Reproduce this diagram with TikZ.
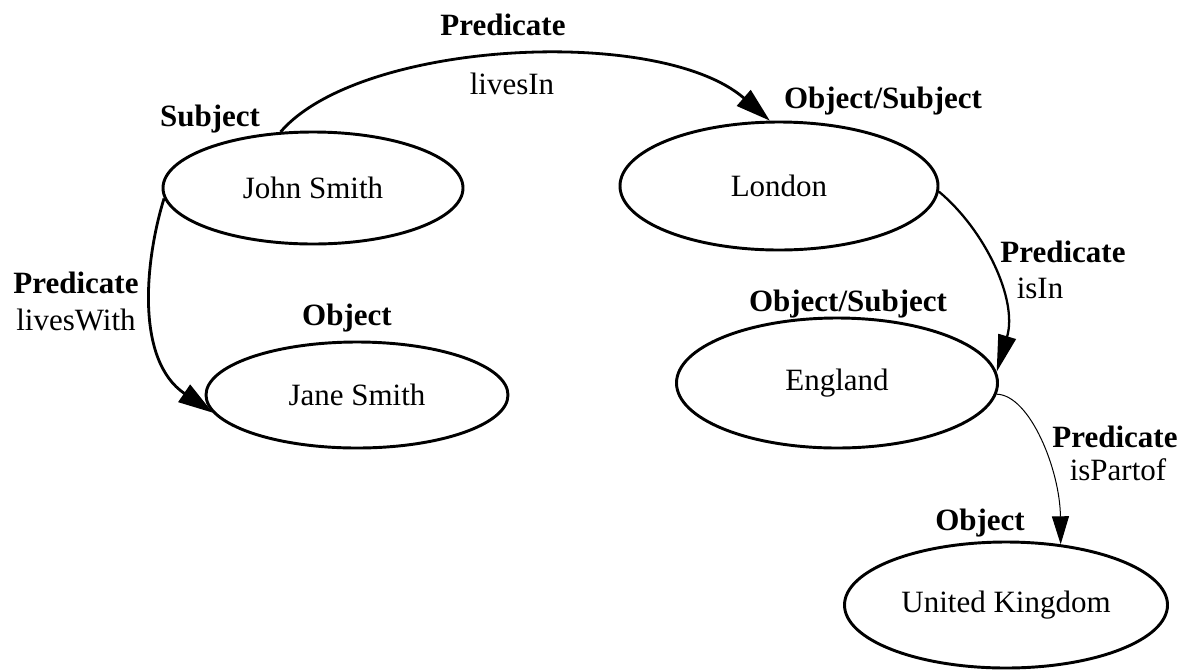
\documentclass[tikz,border=0pt]{standalone}
\usepackage{fontspec}
\setmainfont{Liberation Serif}
\usetikzlibrary{arrows.meta,shapes.geometric}
\begin{document}
\begin{tikzpicture}[x=0.75pt,y=-0.75pt,
  every node/.style={font=\fontsize{23.25pt}{27pt}\selectfont, inner sep=0pt},
  ent/.style={ellipse, draw, line width=2.2pt},
  lbl/.style={font=\fontsize{23.25pt}{27pt}\selectfont\bfseries},
  edge/.style={line width=2.1pt, -{Triangle[length=26pt,width=15.5pt]}},
  midedge/.style={line width=1.7pt, -{Triangle[length=27.75pt,width=13.5pt]}},
  thinedge/.style={line width=0.75pt, -{Triangle[length=21pt,width=12.75pt]}},
]
\useasboundingbox (0,0) rectangle (1185,669);

% entities
\node[ent, minimum width=225pt, minimum height=84pt] (john) at (313,188) {John Smith};
\node[ent, minimum width=226.5pt, minimum height=79.5pt] (jane) at (357,395) {Jane Smith};
\node[ent, minimum width=238.5pt, minimum height=96pt] (london) at (779,186) {London};
\node[ent, minimum width=240.75pt, minimum height=97.5pt] (england) at (837,383) {England};
\node[ent, minimum width=242.25pt, minimum height=94.5pt] (uk) at (1006,605) {United Kingdom};

% labels
\node[lbl] (pTop) at (503,25) {Predicate};
\node (livesIn) at (512,84) {livesIn};
\node[lbl] (subj) at (210,119) {Subject};
\node[lbl] (os1) at (883,101) {Object/Subject};
\node[lbl] (pLeft) at (76,283) {Predicate};
\node (livesWith) at (76,320) {livesWith};
\node[lbl] (obj1) at (347,318) {Object};
\node[lbl] (pRight) at (1063,252) {Predicate};
\node (isIn) at (1040,288) {isIn};
\node[lbl] (os2) at (848,304) {Object/Subject};
\node[lbl] (pLow) at (1115,437) {Predicate};
\node (isPartof) at (1118,470) {isPartof};
\node[lbl] (obj2) at (980,523) {Object};

% connectors
\draw[edge] (john.120) .. controls (360,40) and (660,25) .. (london.98);
\draw[edge] (john.184) .. controls (145,260) and (135,360) .. (jane.187);
\draw[midedge] (london.-2) .. controls (985,230) and (1018,300) .. (england.4);
\draw[thinedge] (england.-4) .. controls (1030,395) and (1060,470) .. (uk.48);
\end{tikzpicture}
\end{document}
